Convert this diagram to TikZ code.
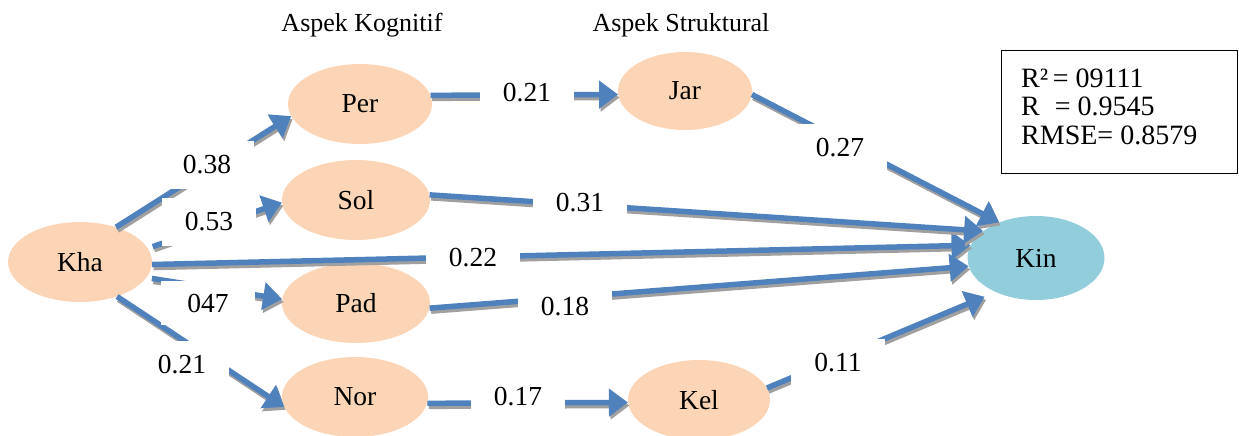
\documentclass[tikz,border=0pt]{standalone}
\usepackage{fontspec}
\setmainfont{Liberation Serif}
\usetikzlibrary{shapes.geometric,arrows.meta}

\definecolor{peach}{HTML}{FBD5B5}
\definecolor{skyblue}{HTML}{92CDDC}
\definecolor{pathblue}{HTML}{4F81BD}
\definecolor{shadowgrey}{HTML}{A0A0A0}

\tikzset{
  var/.style={ellipse, fill=peach, inner sep=0pt, minimum width=144pt,
    minimum height=80pt, font=\fontsize{27.5}{32}\selectfont},
  coef/.style={fill=white, inner sep=0pt, minimum width=94pt,
    minimum height=48pt, font=\fontsize{27.5}{32}\selectfont},
  heading/.style={anchor=base, inner sep=0pt, font=\fontsize{26}{31}\selectfont},
  statlines/.style={anchor=base west, inner sep=0pt, align=left,
    font=\fontsize{28}{28.5}\selectfont},
  flow/.style={line width=5.5pt, draw=pathblue, fill=pathblue,
    -{Triangle[length=19pt,width=27pt]}},
  flowshadow/.style={flow, draw=shadowgrey, fill=shadowgrey,
    transform canvas={xshift=1.5pt,yshift=-3pt}},
}

% one path arrow: grey drop shadow first, blue arrow on top
\newcommand\flowlink[2]{%
  \draw[flowshadow] #1 -- #2;
  \draw[flow] #1 -- #2;}

\begin{document}
\begin{tikzpicture}[x=1pt,y=-1pt]
\useasboundingbox (0,0) rectangle (1239,436);

% headings
\node[heading] (hkog) at (362,32) {Aspek Kognitif};
\node[heading] (hstr) at (681,32) {Aspek Struktural};

% variables
\node[var] (kha) at (80,262) {Kha};
\node[var] (per) at (360,104) {Per};
\node[var, minimum width=148pt] (sol) at (356,200) {Sol};
\node[var, minimum width=148pt] (pad) at (356,303) {Pad};
\node[var, minimum width=146pt] (nor) at (355,397) {Nor};
\node[var, minimum width=134pt, minimum height=78pt] (jar) at (685,91) {Jar};
\node[var, minimum width=142pt, minimum height=80pt] (kel) at (699,400) {Kel};
\node[var, fill=skyblue, minimum width=137pt, minimum height=84pt] (kin) at (1036,258) {Kin};

% paths
\flowlink{(kha.44)}{(per.190)}
\flowlink{([xshift=6pt]kha.13)}{(sol.182)}
\flowlink{(kha.-2)}{(kin.169)}
\flowlink{([xshift=6pt]kha.-14)}{(pad.177)}
\flowlink{(kha.-43)}{(nor.188)}
\flowlink{(per.7)}{(jar.183)}
\flowlink{(jar.-3)}{(kin.136)}
\flowlink{(sol.4)}{(kin.153)}
\flowlink{(pad.-4)}{(kin.187)}
\flowlink{(nor.-5)}{(kel.182)}
\flowlink{(kel.10)}{([xshift=-6pt,yshift=-7pt]kin.215)}

% path coefficients
\node[coef] (c1) at (207,165) {0.38};
\node[coef] (c2) at (209,222) {0.53};
\node[coef] (c3) at (473,258) {0.22};
\node[coef, minimum height=44pt] (c4) at (208,303) {047};
\node[coef] (c5) at (182,365) {0.21};
\node[coef] (c6) at (527,93) {0.21};
\node[coef] (c7) at (840,148) {0.27};
\node[coef] (c8) at (580,203) {0.31};
\node[coef] (c9) at (565,307) {0.18};
\node[coef] (c10) at (518,397) {0.17};
\node[coef] (c11) at (838,363) {0.11};

% fit statistics (base anchor sits on the last line)
\node[draw, line width=1.3pt, anchor=north west, inner sep=0pt,
  minimum width=236pt, minimum height=123pt] (stats) at (1001,50) {};
\node[statlines] (fit) at (1021,144)
  {R²\,= 09111\\ R\hspace{15pt}= 0.9545\\ RMSE= 0.8579};
\end{tikzpicture}
\end{document}
